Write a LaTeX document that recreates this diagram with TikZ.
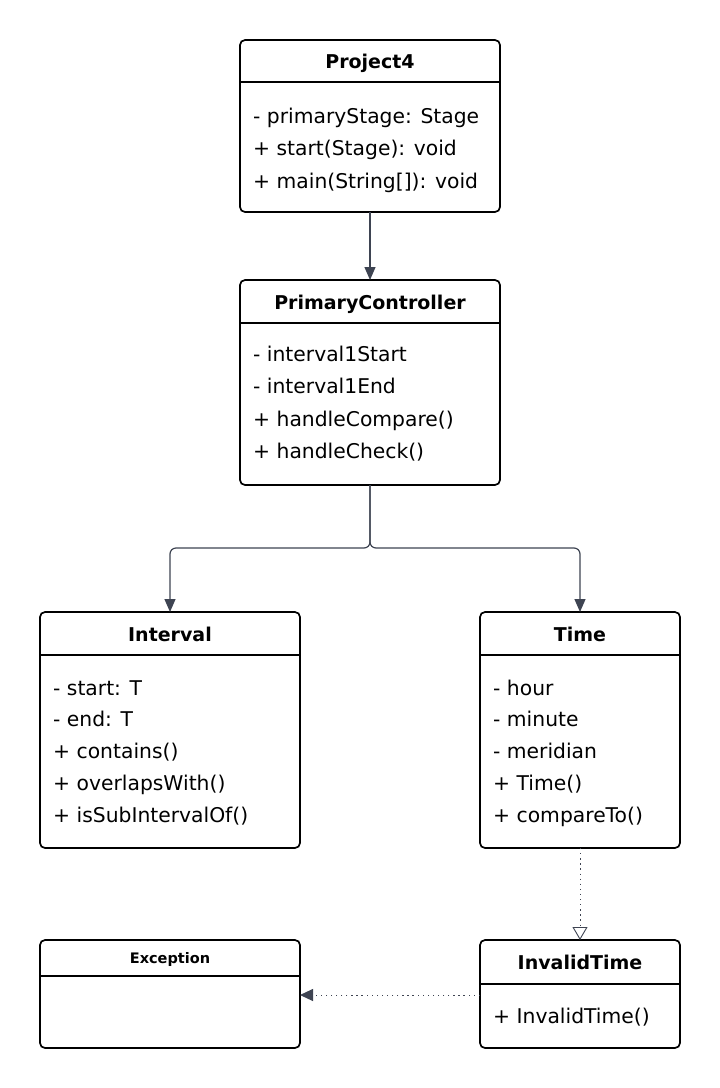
\documentclass[tikz,border=0pt]{standalone}
\usepackage{fontspec}
\setmainfont{DejaVu Sans}
\usetikzlibrary{arrows.meta}
\definecolor{linkgray}{HTML}{3E4452}
\tikzset{
  classbox/.style={draw=black, line width=1.7pt, rounded corners=5pt, anchor=north west, inner sep=0pt, outer sep=0pt},
  divider/.style={draw=black, line width=1.7pt},
  ctitle/.style={font=\fontsize{19}{22}\selectfont\bfseries, inner sep=0pt, anchor=base},
  smalltitle/.style={font=\fontsize{14.5}{16}\selectfont\bfseries, inner sep=0pt, anchor=base},
  member/.style={font=\fontsize{20.3}{22}\selectfont, inner sep=0pt, anchor=base west},
  conn/.style={draw=linkgray, line width=1.2pt, rounded corners=6pt, -{Triangle[width=11pt,length=13pt]}},
  realize/.style={draw=linkgray, line width=1pt, dash pattern=on 1.3pt off 3.8pt, -{Triangle[open,width=15pt,length=13pt,fill=white,line width=0.9pt,sep=0pt]}},
  depend/.style={draw=linkgray, line width=1pt, dash pattern=on 1.3pt off 3.8pt, -{Triangle[width=12pt,length=13pt]}}
}
\begin{document}
\begin{tikzpicture}[x=1pt,y=-1pt]
\useasboundingbox[fill=white] (0,0) rectangle (720,1088);

% Project4
\node[classbox, minimum width=260pt, minimum height=172pt] (p4) at (240,40) {};
\draw[divider] (240,82) -- (500,82);
\node[ctitle] (p4t) at (370,68) {Project4};
\node[member] (p4a) at (253,123) {- primaryStage: Stage};
\node[member] (p4b) at (253,155) {+ start(Stage): void};
\node[member] (p4c) at (253,188) {+ main(String[]): void};

% PrimaryController
\node[classbox, minimum width=260pt, minimum height=205pt] (pc) at (240,280) {};
\draw[divider] (240,323) -- (500,323);
\node[ctitle] (pct) at (370,309) {PrimaryController};
\node[member] (pca) at (253,361) {- interval1Start};
\node[member] (pcb) at (253,393) {- interval1End};
\node[member] (pcc) at (253,426) {+ handleCompare()};
\node[member] (pcd) at (253,458) {+ handleCheck()};

% Interval
\node[classbox, minimum width=260pt, minimum height=236pt] (iv) at (40,612) {};
\draw[divider] (40,655) -- (300,655);
\node[ctitle] (ivt) at (170,641) {Interval};
\node[member] (iva) at (53,695) {- start: T};
\node[member] (ivb) at (53,726) {- end: T};
\node[member] (ivc) at (53,758) {+ contains()};
\node[member] (ivd) at (53,790) {+ overlapsWith()};
\node[member] (ive) at (53,822) {+ isSubIntervalOf()};

% Time
\node[classbox, minimum width=200pt, minimum height=236pt] (tm) at (480,612) {};
\draw[divider] (480,655) -- (680,655);
\node[ctitle] (tmt) at (580,641) {Time};
\node[member] (tma) at (493,695) {- hour};
\node[member] (tmb) at (493,726) {- minute};
\node[member] (tmc) at (493,758) {- meridian};
\node[member] (tmd) at (493,790) {+ Time()};
\node[member] (tme) at (493,822) {+ compareTo()};

% Exception
\node[classbox, minimum width=260pt, minimum height=108pt] (ex) at (40,940) {};
\draw[divider] (40,976) -- (300,976);
\node[smalltitle] (ext) at (170,963) {Exception};

% InvalidTime
\node[classbox, minimum width=200pt, minimum height=108pt] (it) at (480,940) {};
\draw[divider] (480,984) -- (680,984);
\node[ctitle] (itt) at (580,969) {InvalidTime};
\node[member] (ita) at (493,1023) {+ InvalidTime()};

% connectors
\coordinate (split) at (370,548);
\draw[conn] (p4.south) -- (pc.north);
\draw[conn] (pc.south) -- (split) -- (split -| iv.north) -- (iv.north);
\draw[conn] (pc.south) -- (split) -- (split -| tm.north) -- (tm.north);
\draw[realize] (tm.south) -- (it.north);
\draw[depend] (it.west |- 0,995) -- (ex.east |- 0,995);
\end{tikzpicture}
\end{document}
